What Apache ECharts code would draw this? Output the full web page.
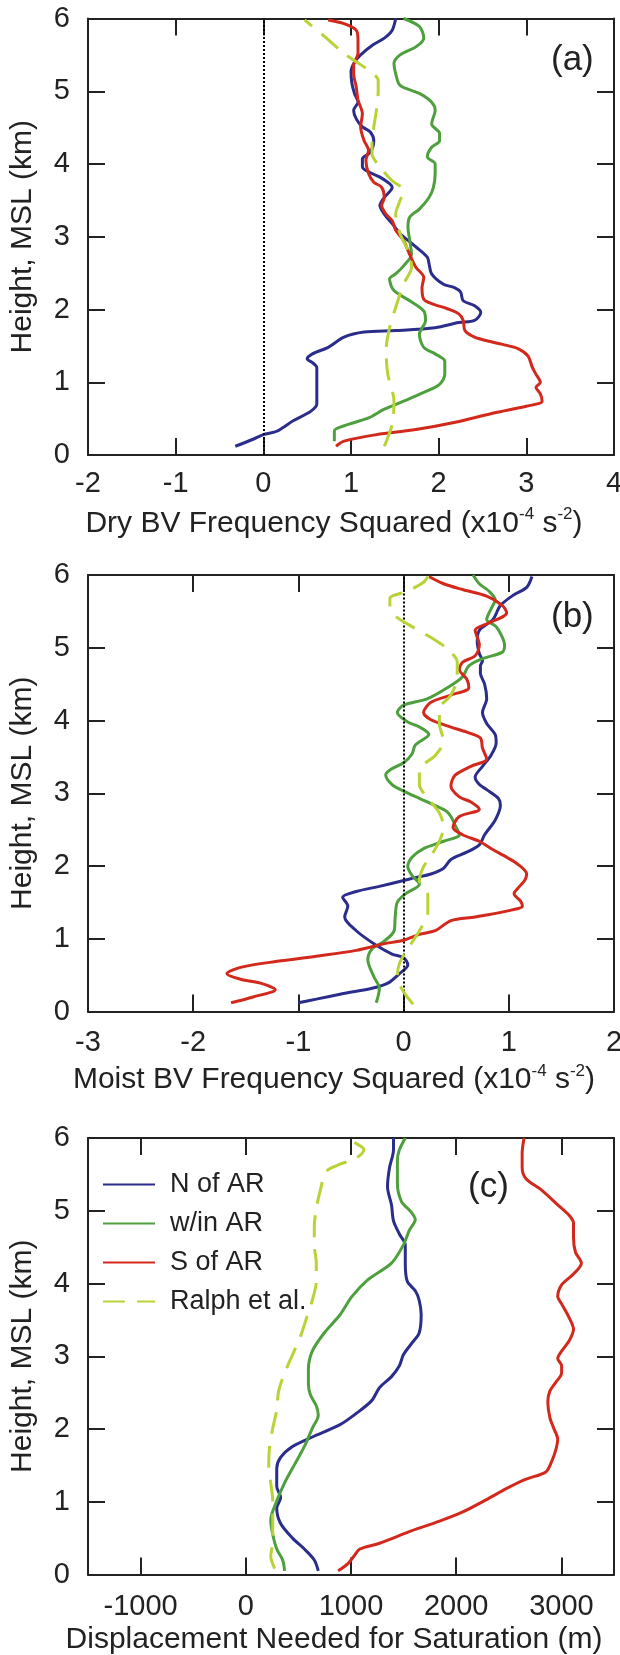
<!DOCTYPE html>
<html><head><meta charset="utf-8">
<script src="https://cdn.jsdelivr.net/npm/echarts@6/dist/echarts.min.js"></script>
<style>html,body{margin:0;padding:0;background:#fff}#c{width:620px;height:1655px}</style>
</head><body><div id="c"></div>
<script>
// ---- data: [value, height km] ----
const dryN = [[-0.32,0.12],[-0.11,0.22],[0,0.28],[0.16,0.33],[0.34,0.47],[0.54,0.6],[0.61,0.7],[0.61,0.9],[0.61,1.2],[0.56,1.27],[0.5,1.32],[0.56,1.39],[0.74,1.48],[0.92,1.62],[1.15,1.69],[1.51,1.71],[1.96,1.75],[2.23,1.82],[2.41,1.85],[2.48,1.96],[2.41,2.05],[2.28,2.12],[2.25,2.24],[2.18,2.3],[2.05,2.35],[1.92,2.49],[1.89,2.63],[1.87,2.72],[1.74,2.86],[1.65,2.95],[1.56,3.04],[1.47,3.18],[1.38,3.31],[1.33,3.43],[1.38,3.54],[1.47,3.68],[1.44,3.73],[1.33,3.82],[1.24,3.87],[1.13,3.96],[1.13,4.07],[1.22,4.16],[1.26,4.32],[1.22,4.44],[1.13,4.51],[1.06,4.62],[1.03,4.74],[1.08,4.85],[1.04,4.97],[1.01,5.11],[1.0,5.27],[1.04,5.4],[1.11,5.5],[1.24,5.63],[1.38,5.73],[1.47,5.84],[1.51,6.0]];
const dryW = [[0.81,0.19],[0.81,0.33],[0.97,0.42],[1.2,0.51],[1.38,0.63],[1.6,0.74],[1.83,0.86],[2.01,0.97],[2.07,1.11],[2.07,1.29],[1.96,1.39],[1.83,1.48],[1.78,1.66],[1.85,1.85],[1.83,1.98],[1.67,2.12],[1.49,2.26],[1.44,2.42],[1.51,2.49],[1.6,2.6],[1.69,2.76],[1.67,2.95],[1.65,3.13],[1.67,3.27],[1.78,3.38],[1.89,3.54],[1.94,3.68],[1.96,3.87],[1.96,4.0],[1.87,4.1],[1.92,4.23],[2.01,4.32],[2.01,4.42],[1.92,4.55],[1.96,4.74],[1.92,4.85],[1.78,4.97],[1.56,5.08],[1.51,5.24],[1.49,5.38],[1.56,5.5],[1.74,5.61],[1.83,5.73],[1.78,5.89],[1.6,6.0]];
const dryS = [[0.83,0.12],[0.92,0.19],[1.29,0.28],[1.74,0.35],[2.19,0.45],[2.64,0.58],[3.0,0.67],[3.18,0.74],[3.16,0.84],[3.11,0.93],[3.16,1.0],[3.11,1.11],[3.07,1.2],[3.02,1.36],[2.91,1.46],[2.73,1.52],[2.55,1.57],[2.41,1.62],[2.3,1.71],[2.28,1.85],[2.23,1.94],[2.1,2.01],[1.92,2.08],[1.83,2.14],[1.81,2.3],[1.83,2.44],[1.74,2.58],[1.69,2.7],[1.65,2.81],[1.6,2.95],[1.51,3.09],[1.47,3.22],[1.4,3.31],[1.35,3.43],[1.38,3.54],[1.35,3.68],[1.26,3.75],[1.2,3.87],[1.17,4.05],[1.2,4.19],[1.15,4.32],[1.11,4.51],[1.13,4.69],[1.08,4.88],[1.06,5.06],[1.03,5.24],[1.03,5.36],[1.08,5.52],[1.08,5.7],[1.06,5.84],[0.92,5.93],[0.74,5.98]];
const dryR = [[1.38,0.12],[1.47,0.42],[1.49,0.74],[1.42,1.11],[1.4,1.43],[1.44,1.75],[1.51,2.03],[1.6,2.35],[1.69,2.58],[1.67,2.76],[1.56,3.04],[1.51,3.31],[1.56,3.5],[1.6,3.64],[1.47,3.77],[1.33,3.96],[1.24,4.14],[1.24,4.32],[1.26,4.51],[1.29,4.74],[1.31,5.01],[1.31,5.15],[1.2,5.29],[0.92,5.52],[0.7,5.75],[0.47,5.98]];

const moistN = [[-1.0,0.12],[-0.83,0.17],[-0.56,0.25],[-0.3,0.32],[-0.15,0.39],[-0.04,0.52],[0.04,0.64],[0,0.74],[-0.11,0.79],[-0.26,0.91],[-0.45,1.11],[-0.56,1.3],[-0.53,1.45],[-0.58,1.57],[-0.45,1.65],[-0.23,1.72],[0,1.8],[0.11,1.84],[0.26,1.89],[0.38,1.97],[0.45,2.09],[0.6,2.19],[0.72,2.29],[0.77,2.43],[0.87,2.63],[0.92,2.83],[0.9,2.93],[0.79,3.05],[0.72,3.12],[0.68,3.22],[0.75,3.37],[0.83,3.52],[0.88,3.69],[0.87,3.81],[0.79,3.96],[0.75,4.11],[0.79,4.3],[0.77,4.5],[0.73,4.65],[0.73,4.75],[0.75,4.82],[0.72,4.92],[0.7,5.09],[0.72,5.24],[0.85,5.39],[0.92,5.58],[1.05,5.73],[1.17,5.83],[1.22,5.98]];
const moistW = [[-0.26,0.12],[-0.23,0.32],[-0.28,0.47],[-0.34,0.71],[-0.3,0.86],[-0.19,0.96],[-0.09,1.11],[-0.08,1.3],[-0.06,1.5],[0.02,1.62],[0.15,1.75],[0.08,1.87],[0.04,1.99],[0.08,2.12],[0.19,2.24],[0.38,2.34],[0.53,2.43],[0.49,2.56],[0.45,2.68],[0.41,2.75],[0.3,2.83],[0.15,2.93],[0,3.03],[-0.11,3.12],[-0.17,3.25],[-0.13,3.32],[0,3.42],[0.08,3.54],[0.11,3.66],[0.24,3.81],[0.15,3.91],[0.04,3.98],[-0.06,4.11],[0,4.21],[0.23,4.3],[0.45,4.48],[0.56,4.6],[0.62,4.75],[0.75,4.85],[0.94,4.94],[0.96,5.04],[0.94,5.14],[0.88,5.29],[0.79,5.39],[0.83,5.53],[0.87,5.66],[0.81,5.78],[0.72,5.88],[0.66,6.0]];
const moistS = [[-1.64,0.12],[-1.43,0.2],[-1.22,0.3],[-1.36,0.39],[-1.54,0.44],[-1.68,0.52],[-1.54,0.61],[-1.2,0.69],[-0.83,0.76],[-0.45,0.84],[-0.19,0.93],[0,0.98],[0.15,1.06],[0.3,1.11],[0.45,1.25],[0.68,1.3],[0.98,1.38],[1.13,1.45],[1.11,1.52],[1.05,1.62],[1.09,1.7],[1.15,1.8],[1.17,1.89],[1.09,2.02],[0.98,2.12],[0.83,2.24],[0.72,2.34],[0.56,2.43],[0.47,2.53],[0.53,2.68],[0.72,2.78],[0.64,2.88],[0.53,2.95],[0.45,3.1],[0.49,3.25],[0.64,3.37],[0.79,3.47],[0.75,3.62],[0.73,3.76],[0.6,3.84],[0.45,3.91],[0.26,4.01],[0.19,4.11],[0.26,4.25],[0.45,4.35],[0.62,4.45],[0.6,4.57],[0.53,4.7],[0.56,4.8],[0.68,4.89],[0.72,5.04],[0.68,5.24],[0.81,5.34],[0.98,5.48],[0.94,5.58],[0.79,5.71],[0.56,5.8],[0.38,5.88],[0.24,5.98]];
const moistR = [[0.09,0.1],[0,0.27],[-0.06,0.47],[-0.04,0.66],[0.04,0.86],[0.15,1.11],[0.23,1.35],[0.23,1.6],[0.15,1.8],[0.19,1.99],[0.26,2.14],[0.34,2.34],[0.38,2.53],[0.34,2.73],[0.23,2.93],[0.15,3.12],[0.15,3.32],[0.3,3.52],[0.38,3.71],[0.34,3.96],[0.34,4.16],[0.45,4.35],[0.51,4.6],[0.51,4.8],[0.41,4.99],[0.26,5.14],[0.08,5.29],[-0.08,5.44],[-0.13,5.58],[-0.13,5.68],[0.04,5.78],[0.19,5.9],[0.23,5.98]];

const dispN = [[689,0.05],[651,0.2],[557,0.35],[444,0.5],[331,0.7],[294,0.91],[331,1.06],[294,1.21],[294,1.46],[331,1.61],[444,1.76],[632,1.89],[896,2.06],[1046,2.21],[1197,2.39],[1272,2.57],[1385,2.72],[1460,2.87],[1498,3.02],[1573,3.17],[1648,3.32],[1667,3.57],[1648,3.77],[1611,3.9],[1535,4.03],[1516,4.28],[1516,4.53],[1460,4.68],[1404,4.86],[1385,5.08],[1347,5.33],[1366,5.59],[1404,5.84],[1404,6.0]];
const dispW = [[369,0.05],[350,0.2],[294,0.35],[256,0.55],[237,0.75],[294,1.01],[369,1.26],[463,1.51],[557,1.76],[632,2.01],[689,2.19],[670,2.32],[614,2.47],[595,2.62],[595,2.82],[632,3.07],[745,3.32],[896,3.57],[1008,3.82],[1159,4.05],[1385,4.28],[1498,4.53],[1554,4.73],[1611,4.88],[1573,4.98],[1479,5.13],[1441,5.38],[1441,5.69],[1460,5.84],[1517,6.0]];
const dispS = [[877,0.05],[971,0.15],[1027,0.25],[1084,0.35],[1272,0.43],[1573,0.6],[1836,0.73],[2062,0.86],[2288,1.03],[2476,1.18],[2664,1.31],[2852,1.41],[2909,1.56],[2946,1.71],[2965,1.86],[2927,2.01],[2890,2.16],[2871,2.37],[2890,2.52],[2946,2.64],[3002,2.77],[3002,2.87],[2965,2.97],[3002,3.07],[3077,3.22],[3115,3.37],[3077,3.52],[3002,3.72],[2965,3.82],[3002,3.98],[3115,4.13],[3190,4.28],[3134,4.43],[3115,4.63],[3115,4.83],[3077,4.93],[2965,5.08],[2815,5.28],[2664,5.44],[2627,5.59],[2627,5.79],[2645,6.0]];
const dispR = [[275,0.08],[237,0.25],[256,0.45],[256,0.75],[256,1.01],[237,1.26],[218,1.51],[226,1.76],[256,2.01],[294,2.26],[312,2.52],[369,2.77],[444,3.02],[519,3.27],[576,3.52],[632,3.77],[670,4.03],[670,4.28],[651,4.53],[651,4.78],[670,5.03],[708,5.28],[764,5.54],[896,5.64],[1046,5.72],[1122,5.84],[1008,5.96],[971,6.0]];

const seriesNames = ['N of AR', 'w/in AR', 'S of AR', 'Ralph et al.'];
const panelLabels = ['(a)', '(b)', '(c)'];
const xTitles = ['Dry BV Frequency Squared (x10{s|-4} s{s|-2})', 'Moist BV Frequency Squared (x10{s|-4} s{s|-2})', 'Displacement Needed for Saturation (m)'];
const yTitle = 'Height, MSL (km)';
const xRanges = [[-2, 4, 1], [-3, 2, 1], [-1500, 3500, 1000]];
const dispTicks = [-1000, 0, 1000, 2000, 3000];

const FONT = '"Liberation Sans", Arial, sans-serif';
const colors = ['#2b2d8c', '#4e9f3d', '#d2291c', '#b7d336'];
const tops = [18.5, 575, 1138];
const H = 436.5;

const chart = echarts.init(document.getElementById('c'), null, {renderer: 'canvas'});
const grids = [], xAxes = [], yAxes = [], series = [];
const axisLine = {show: true, onZero: false, lineStyle: {color: '#222', width: 2}};
const tick = {show: true, inside: true, length: 17, lineStyle: {color: '#222', width: 2}};
const panelData = [[dryN, dryW, dryS, dryR], [moistN, moistW, moistS, moistR], [dispN, dispW, dispS, dispR]];
const labelMargins = [14, 17, 18];
const plain = v => String(v);

for (let i = 0; i < 3; i++) {
  grids.push({left: 88, width: 526, top: tops[i], height: H, outerBoundsMode: 'none', containLabel: false});
  const [mn, mx, iv] = xRanges[i];
  const custom = i === 2;
  const bx = {type: 'value', gridIndex: i, min: mn, max: mx, interval: iv, position: 'bottom',
    axisLine, axisTick: Object.assign({}, tick, custom ? {customValues: dispTicks} : {}),
    splitLine: {show: false},
    axisLabel: Object.assign({show: true, margin: labelMargins[i], color: '#222', fontSize: 29, fontFamily: FONT, formatter: plain}, custom ? {customValues: dispTicks} : {}),
    name: xTitles[i], nameLocation: 'middle', nameGap: i === 2 ? 46 : 51,
    nameTextStyle: {color: '#222', fontSize: 30, fontFamily: FONT, lineHeight: 35, padding: [0, 34, 0, 0],
      rich: {s: {fontSize: 17, fontFamily: FONT, color: '#222', verticalAlign: 'top', lineHeight: 35}}}
  };
  xAxes.push(bx);
  yAxes.push({type: 'value', gridIndex: i, min: 0, max: 6, interval: 1, position: 'left',
    axisLine, axisTick: tick, splitLine: {show: false},
    axisLabel: {show: true, margin: 18, color: '#222', fontSize: 29, fontFamily: FONT, formatter: plain},
    name: yTitle, nameLocation: 'middle', nameGap: 50,
    nameTextStyle: {color: '#222', fontSize: 30, fontFamily: FONT}
  });
}
for (let i = 0; i < 3; i++) {
  const [mn, mx, iv] = xRanges[i];
  const custom = i === 2;
  xAxes.push({type: 'value', gridIndex: i, min: mn, max: mx, interval: iv, position: 'top',
    axisLine, axisTick: Object.assign({}, tick, custom ? {customValues: dispTicks} : {}),
    splitLine: {show: false}, axisLabel: {show: false}});
  yAxes.push({type: 'value', gridIndex: i, min: 0, max: 6, interval: 1, position: 'right',
    axisLine, axisTick: tick, splitLine: {show: false}, axisLabel: {show: false}});
}

for (let i = 0; i < 3; i++) {
  const order = [1, 0, 2, 3];
  order.forEach(k => {
    const s = {type: 'line', name: seriesNames[k], data: panelData[i][k], xAxisIndex: i, yAxisIndex: i,
      symbol: 'none', showSymbol: false, smooth: 0.3, silent: true, animation: false,
      lineStyle: {color: colors[k], width: 3, type: k === 3 ? [22, 12] : 'solid'},
      itemStyle: {color: colors[k]}, z: 3 + k};
    if (i < 2 && k === 1) {
      s.markLine = {silent: true, symbol: 'none', label: {show: false}, animation: false,
        lineStyle: {color: '#000', width: 2, type: [2, 2]}, data: [{xAxis: 0}]};
    }
    series.push(s);
  });
}

const graphics = [
  {type: 'text', left: 551, top: 43, style: {text: panelLabels[0], font: '35px ' + FONT, fill: '#222'}},
  {type: 'text', left: 551, top: 600, style: {text: panelLabels[1], font: '35px ' + FONT, fill: '#222'}},
  {type: 'text', left: 468, top: 1170, style: {text: panelLabels[2], font: '35px ' + FONT, fill: '#222'}}
];

chart.setOption({
  animation: false,
  backgroundColor: '#fff',
  grid: grids, xAxis: xAxes, yAxis: yAxes, series,
  legend: {show: true, orient: 'vertical', left: 102, top: 1171, itemWidth: 52, itemHeight: 14, itemGap: 12,
    padding: 0, selectedMode: false, data: seriesNames,
    itemStyle: {opacity: 0, borderWidth: 0},
    textStyle: {fontSize: 27, fontFamily: FONT, color: '#222', padding: [0, 0, 0, 10]}},
  graphic: graphics
});
</script></body></html>
